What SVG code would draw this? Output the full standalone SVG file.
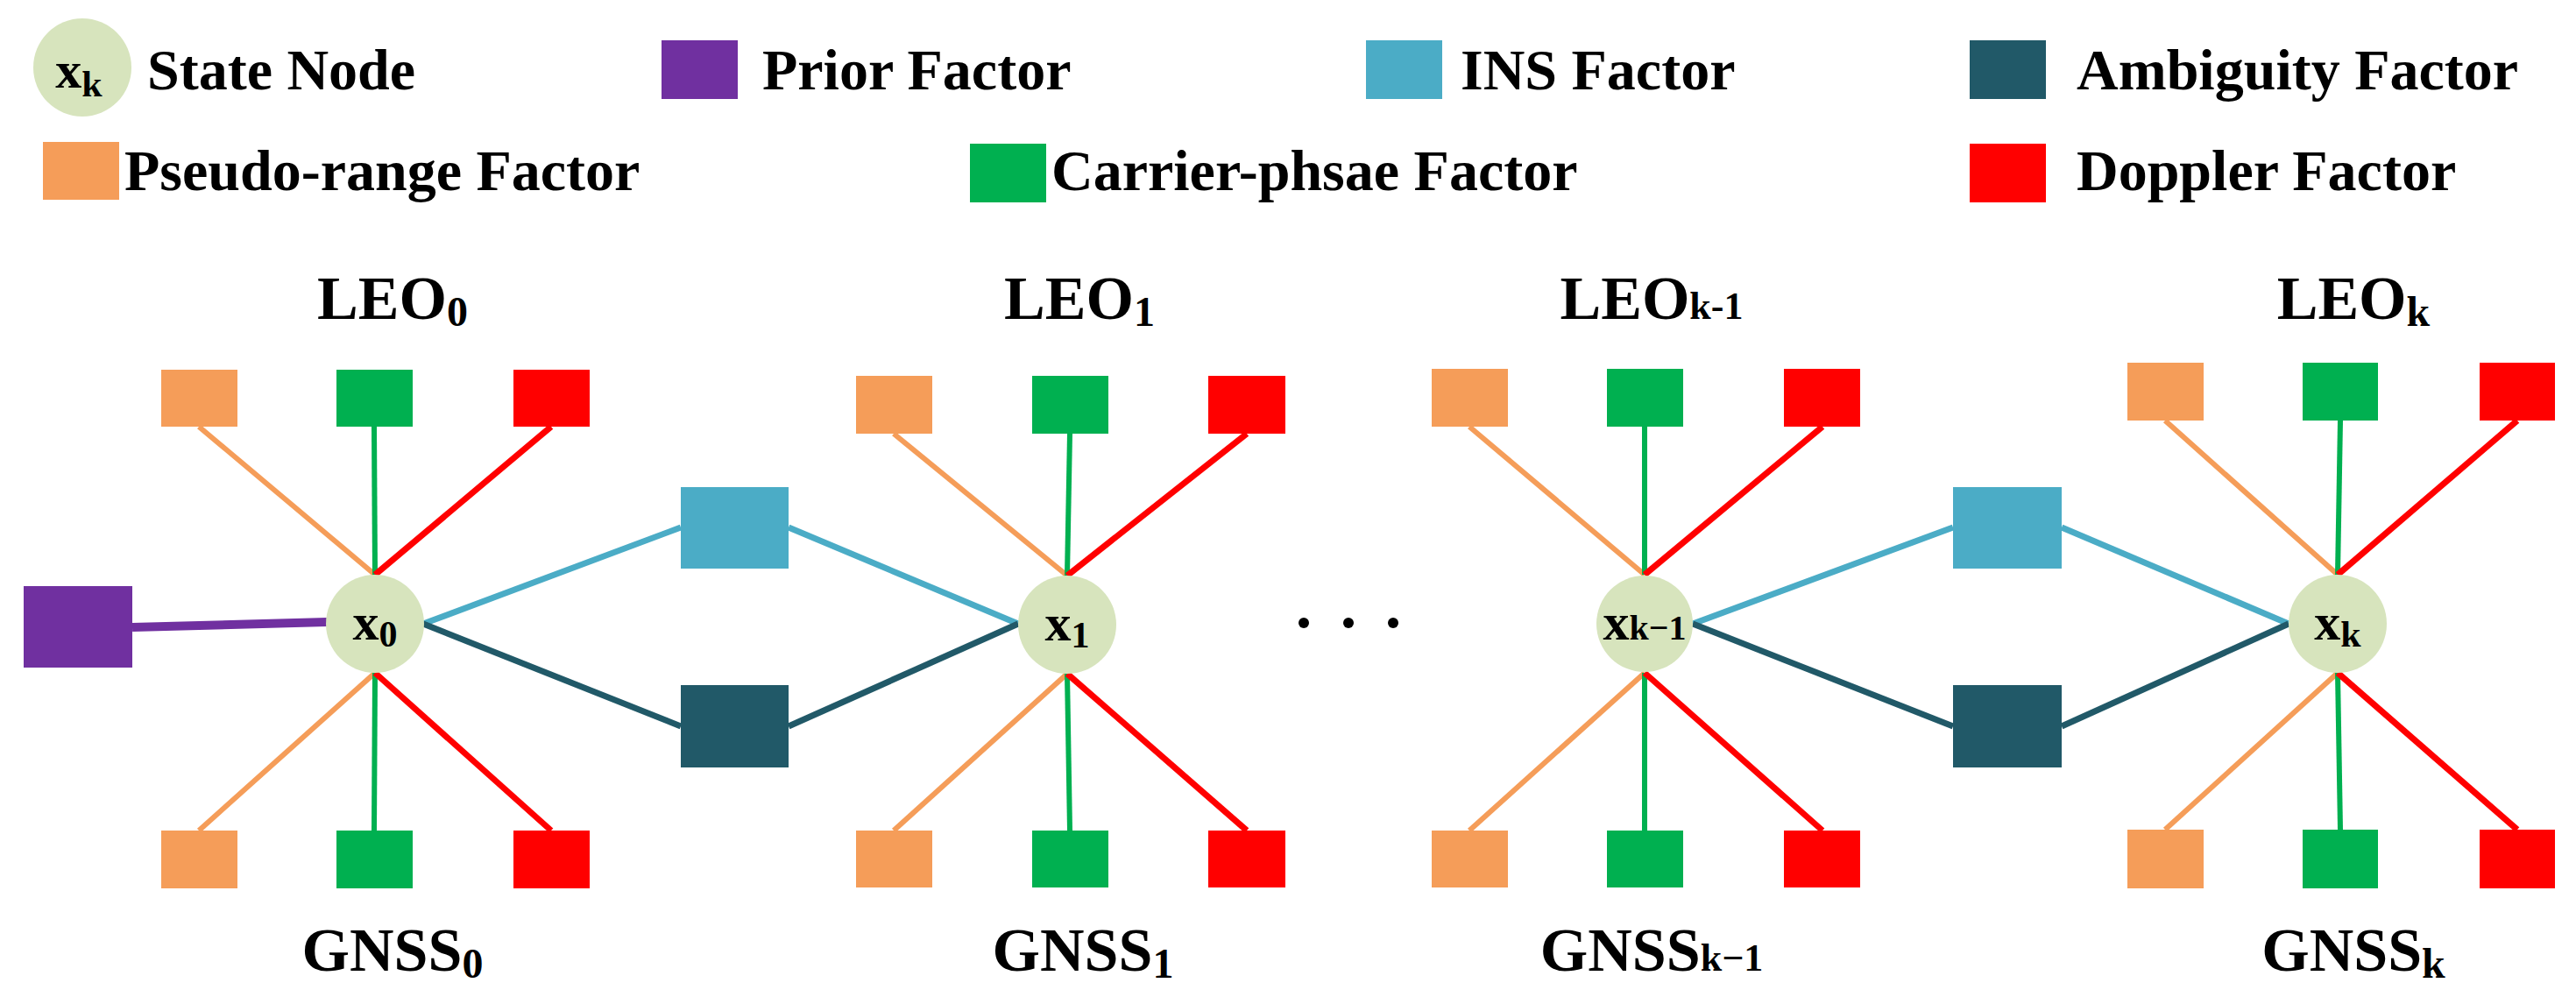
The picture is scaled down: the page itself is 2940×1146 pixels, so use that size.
<svg xmlns="http://www.w3.org/2000/svg" width="2940" height="1146" viewBox="0 0 2940 1146">
<style>
text{font-family:"Liberation Serif","Times New Roman",serif;font-weight:bold;fill:#000}
.lg{font-size:66px}
.lab{font-size:70px;text-anchor:middle}
.nd{font-size:60px;text-anchor:middle}
.node{fill:#D7E4BD}
.po{fill:#F59D59}.cg{fill:#00B050}.dr{fill:#FF0000}.pp{fill:#7030A0}.ins{fill:#4BACC6}.amb{fill:#215968}
.lo{stroke:#F59D59;stroke-width:6}.lgn{stroke:#00B050;stroke-width:6}.lr{stroke:#FF0000;stroke-width:7}
.li{stroke:#4BACC6;stroke-width:7}.la{stroke:#215968;stroke-width:7}.lp{stroke:#7030A0;stroke-width:10}
</style>
<rect width="2940" height="1146" fill="#fff"/>
<g id="legend">
<circle class="node" cx="94" cy="77" r="56"/>
<text x="90" y="100" font-size="60" text-anchor="middle">x<tspan font-size="42" dy="10">k</tspan></text>
<text class="lg" x="168" y="102">State Node</text>
<rect class="pp" x="755" y="46" width="87" height="67"/>
<text class="lg" x="870" y="102">Prior Factor</text>
<rect class="ins" x="1559" y="46" width="87" height="67"/>
<text class="lg" x="1667" y="102">INS Factor</text>
<rect class="amb" x="2248" y="46" width="87" height="67"/>
<text class="lg" x="2370" y="102">Ambiguity Factor</text>
<rect class="po" x="49" y="162" width="87" height="66"/>
<text class="lg" x="142" y="217">Pseudo-range Factor</text>
<rect class="cg" x="1107" y="164" width="87" height="67"/>
<text class="lg" x="1200" y="217">Carrier-phsae Factor</text>
<rect class="dr" x="2248" y="164" width="87" height="67"/>
<text class="lg" x="2370" y="217">Doppler Factor</text>
</g>
<g id="connectors" fill="none">
<line class="lp" x1="151" y1="716" x2="373" y2="710"/>
<line class="lo" x1="227" y1="487" x2="428" y2="656"/><line class="lgn" x1="427" y1="487" x2="428" y2="656"/><line class="lr" x1="629" y1="487" x2="428" y2="656"/>
<line class="lo" x1="227" y1="948" x2="428" y2="768"/><line class="lgn" x1="427" y1="948" x2="428" y2="768"/><line class="lr" x1="629" y1="948" x2="428" y2="768"/>
<line class="lo" x1="1020" y1="495" x2="1218" y2="657"/><line class="lgn" x1="1221" y1="495" x2="1218" y2="657"/><line class="lr" x1="1423" y1="495" x2="1218" y2="657"/>
<line class="lo" x1="1020" y1="948" x2="1218" y2="769"/><line class="lgn" x1="1221" y1="948" x2="1218" y2="769"/><line class="lr" x1="1423" y1="948" x2="1218" y2="769"/>
<line class="lo" x1="1677" y1="487" x2="1877" y2="656"/><line class="lgn" x1="1877" y1="487" x2="1877" y2="656"/><line class="lr" x1="2080" y1="487" x2="1877" y2="656"/>
<line class="lo" x1="1677" y1="948" x2="1877" y2="768"/><line class="lgn" x1="1877" y1="948" x2="1877" y2="768"/><line class="lr" x1="2080" y1="948" x2="1877" y2="768"/>
<line class="lo" x1="2471" y1="480" x2="2668" y2="656"/><line class="lgn" x1="2671" y1="480" x2="2668" y2="656"/><line class="lr" x1="2873" y1="480" x2="2668" y2="656"/>
<line class="lo" x1="2471" y1="947" x2="2668" y2="768"/><line class="lgn" x1="2671" y1="947" x2="2668" y2="768"/><line class="lr" x1="2873" y1="947" x2="2668" y2="768"/>
<line class="li" x1="483" y1="712" x2="777" y2="602"/><line class="li" x1="900" y1="602" x2="1162" y2="712"/>
<line class="la" x1="483" y1="712" x2="777" y2="829"/><line class="la" x1="900" y1="829" x2="1162" y2="712"/>
<line class="li" x1="1932" y1="712" x2="2229" y2="602"/><line class="li" x1="2353" y1="602" x2="2612" y2="712"/>
<line class="la" x1="1932" y1="712" x2="2229" y2="829"/><line class="la" x1="2353" y1="829" x2="2612" y2="712"/>
</g>
<g id="dots" fill="#000"><circle cx="1488" cy="711" r="6"/><circle cx="1539" cy="711" r="6"/><circle cx="1590" cy="711" r="6"/></g>
<g id="prior"><rect class="pp" x="27" y="669" width="124" height="93"/></g>
<g id="ins1"><rect class="ins" x="777" y="556" width="123" height="93"/></g>
<g id="amb1"><rect class="amb" x="777" y="782" width="123" height="94"/></g>
<g id="ins2"><rect class="ins" x="2229" y="556" width="124" height="93"/></g>
<g id="amb2"><rect class="amb" x="2229" y="782" width="124" height="94"/></g>
<g id="x0">
<circle class="node" cx="428" cy="712" r="56"/><text class="nd" x="428" y="730">x<tspan font-size="42" dy="8">0</tspan></text>
<rect class="po" x="184" y="422" width="87" height="65"/><rect class="cg" x="384" y="422" width="87" height="65"/><rect class="dr" x="586" y="422" width="87" height="65"/>
<rect class="po" x="184" y="948" width="87" height="66"/><rect class="cg" x="384" y="948" width="87" height="66"/><rect class="dr" x="586" y="948" width="87" height="66"/>
<text class="lab" x="448" y="364">LEO<tspan font-size="48" dy="8">0</tspan></text>
<text class="lab" x="448" y="1108">GNSS<tspan font-size="48" dy="8">0</tspan></text>
</g>
<g id="x1">
<circle class="node" cx="1218" cy="713" r="56"/><text class="nd" x="1218" y="731">x<tspan font-size="42" dy="8">1</tspan></text>
<rect class="po" x="977" y="429" width="87" height="66"/><rect class="cg" x="1178" y="429" width="87" height="66"/><rect class="dr" x="1379" y="429" width="88" height="66"/>
<rect class="po" x="977" y="948" width="87" height="65"/><rect class="cg" x="1178" y="948" width="87" height="65"/><rect class="dr" x="1379" y="948" width="88" height="65"/>
<text class="lab" x="1232" y="364">LEO<tspan font-size="48" dy="8">1</tspan></text>
<text class="lab" x="1236" y="1108">GNSS<tspan font-size="48" dy="8">1</tspan></text>
</g>
<g id="xk-1">
<circle class="node" cx="1877" cy="712" r="55"/><text class="nd" x="1877" y="730" font-size="56">x<tspan font-size="40">k−1</tspan></text>
<rect class="po" x="1634" y="421" width="87" height="66"/><rect class="cg" x="1834" y="421" width="87" height="66"/><rect class="dr" x="2036" y="421" width="87" height="66"/>
<rect class="po" x="1634" y="948" width="87" height="65"/><rect class="cg" x="1834" y="948" width="87" height="65"/><rect class="dr" x="2036" y="948" width="87" height="65"/>
<text class="lab" x="1885" y="364">LEO<tspan font-size="44">k-1</tspan></text>
<text class="lab" x="1885" y="1108">GNSS<tspan font-size="44">k−1</tspan></text>
</g>
<g id="xk">
<circle class="node" cx="2668" cy="712" r="56"/><text class="nd" x="2668" y="730">x<tspan font-size="42" dy="8">k</tspan></text>
<rect class="po" x="2428" y="414" width="87" height="66"/><rect class="cg" x="2628" y="414" width="86" height="66"/><rect class="dr" x="2830" y="414" width="86" height="66"/>
<rect class="po" x="2428" y="947" width="87" height="67"/><rect class="cg" x="2628" y="947" width="86" height="67"/><rect class="dr" x="2830" y="947" width="86" height="67"/>
<text class="lab" x="2686" y="364">LEO<tspan font-size="48" dy="8">k</tspan></text>
<text class="lab" x="2686" y="1108">GNSS<tspan font-size="48" dy="8">k</tspan></text>
</g>
</svg>
